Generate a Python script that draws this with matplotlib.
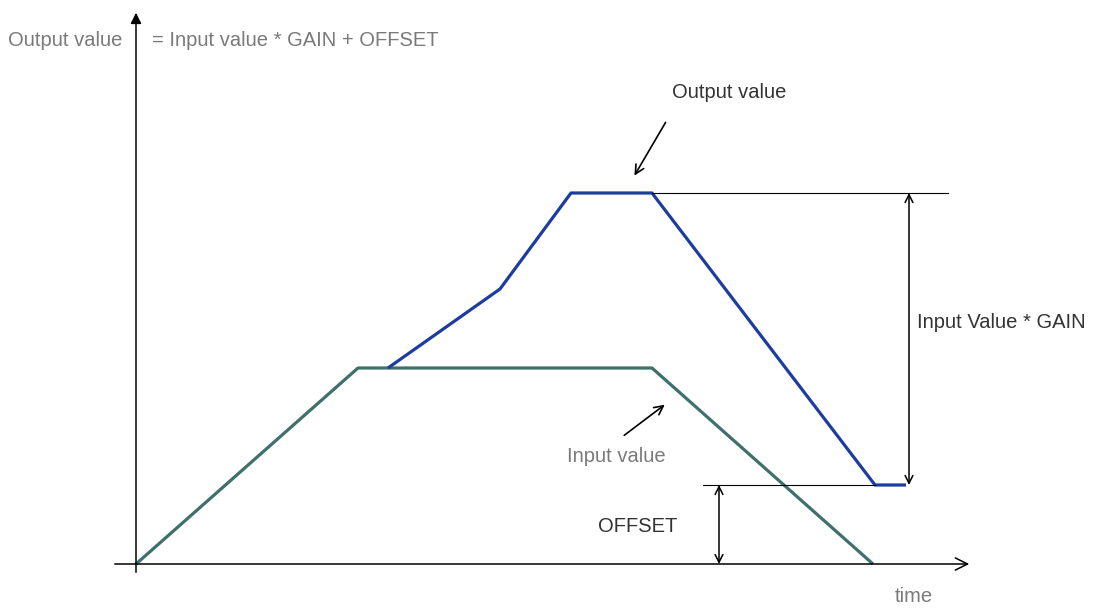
import matplotlib.pyplot as plt

plt.rcParams['font.family'] = ['Liberation Sans', 'DejaVu Sans']

# curve data (time, value), origin at the axes crossing
input_t = [0, 222, 516, 737]
input_v = [0, 196, 196, 0]
output_t = [252, 364, 435, 516, 739, 770]
output_v = [196, 275, 371, 371, 79, 79]

offset = 79
peak = 371

fig = plt.figure(figsize=(10.93, 6.12), dpi=100)
ax = fig.add_axes([0, 0, 1, 1])
ax.set_xlim(-136, 1093 - 136)
ax.set_ylim(564 - 612, 564)
ax.axis('off')

# axes with arrows
ax.annotate('', xy=(836, 0), xytext=(-24, 0),
            arrowprops=dict(arrowstyle='->', color='black', lw=1.1, mutation_scale=22))
ax.annotate('', xy=(0, 554), xytext=(0, -11),
            arrowprops=dict(arrowstyle='-|>', color='black', lw=1.1, mutation_scale=16))

# curves
ax.plot(input_t, input_v, color='#3f706b', lw=2.3, solid_capstyle='butt')
ax.plot(output_t, output_v, color='#1d3d9e', lw=2.3, solid_capstyle='butt')

# reference lines
ax.plot([516, 812], [peak, peak], color='black', lw=0.8)
ax.plot([567, 739], [offset, offset], color='black', lw=0.8)

# dimension arrows
ax.annotate('', xy=(773, peak), xytext=(773, offset),
            arrowprops=dict(arrowstyle='<->', color='black', lw=1.1, mutation_scale=14,
                            shrinkA=0, shrinkB=0))
ax.annotate('', xy=(583, offset), xytext=(583, 0),
            arrowprops=dict(arrowstyle='<->', color='black', lw=1.1, mutation_scale=14,
                            shrinkA=0, shrinkB=0))

# pointer arrows
ax.annotate('', xy=(497, 386), xytext=(531, 444),
            arrowprops=dict(arrowstyle='->', color='black', lw=1.2, mutation_scale=16))
ax.annotate('', xy=(531, 161), xytext=(486, 127),
            arrowprops=dict(arrowstyle='->', color='black', lw=1.2, mutation_scale=16))

# texts
fs = 14.5
ax.text(-128, 524, 'Output value', color='#7a7a7a', fontsize=fs, va='center')
ax.text(16, 524, '= Input value * GAIN + OFFSET', color='#7a7a7a', fontsize=fs, va='center')
ax.text(536, 472, 'Output value', color='#333333', fontsize=fs, va='center')
ax.text(431, 108, 'Input value', color='#7a7a7a', fontsize=fs, va='center')
ax.text(781, 242, 'Input Value * GAIN', color='#333333', fontsize=fs, va='center')
ax.text(462, 37, 'OFFSET', color='#333333', fontsize=fs, va='center')
ax.text(759, -32, 'time', color='#7a7a7a', fontsize=fs, va='center')

fig.savefig('out.png', dpi=100)
